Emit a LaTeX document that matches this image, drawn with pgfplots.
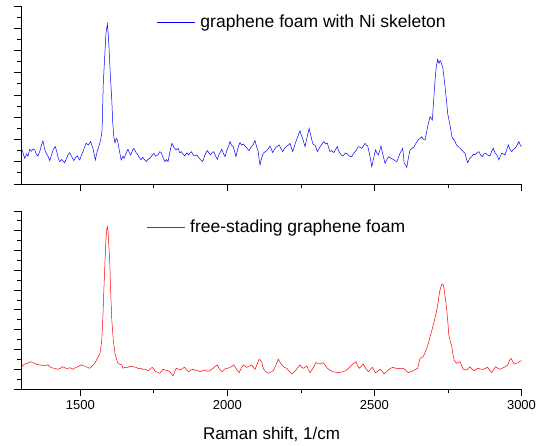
\documentclass[border=0pt]{standalone}
\usepackage{pgfplots}
\pgfplotsset{compat=1.18}
\usepackage{fontspec}
\setmainfont{Liberation Sans}
\begin{document}
\begin{tikzpicture}
\useasboundingbox (-21.5pt,-57pt) rectangle (522.5pt,389pt);
\pgfplotsset{
  ramanaxis/.style={
    scale only axis, width=500pt, height=178pt,
    xmin=1300, xmax=3000,
    axis x line=bottom, axis y line=left,
    axis line style={-, line width=0.8pt, black},
    tick align=outside,
    xtick={1500,2000,2500,3000}, minor x tick num=1,
    minor y tick num=1,
    major tick length=7.5pt, minor tick length=4pt,
    every tick/.style={black, line width=0.8pt},
    yticklabels={},
    /pgf/number format/assume math mode=true,
    /pgf/number format/set thousands separator={},
    tick label style={font=\fontsize{13}{15}\selectfont},
    legend style={draw=none, fill=none, inner sep=0pt, outer sep=0pt,
      font=\fontsize{17.5}{20}\selectfont, anchor=west, column sep=5pt,
      nodes={inner sep=0pt}},
    legend image code/.code={\draw[#1] (0pt,0pt) -- (38pt,0pt);},
    clip=false,
  }
}
% top panel
\begin{axis}[ramanaxis, at={(0pt,205pt)}, anchor=south west,
  ymin=0, ymax=16, ytick={0,2,...,16}, xticklabels={},
  legend style={at={(0.271,0.91)}}]
\addplot[blue, line width=0.5pt] coordinates {
(1300,3.21) (1305,2.8) (1311,2.31) (1318,2.7) (1322,2.5) (1328,3.12) (1334,2.95) (1340,3.15) (1345,3.06) (1350,2.7) (1356,2.52) (1363,3.0) (1368,3.5) (1373,3.87) (1378,3.2) (1384,2.76) (1390,2.5) (1396,2.10)
(1402,2.6) (1408,3.1) (1415,3.36) (1420,2.9) (1425,2.3) (1430,2.01) (1437,2.2) (1442,2.05) (1447,1.92) (1453,2.3) (1458,2.6) (1464,2.82) (1470,2.5) (1474,2.3) (1478,2.10) (1484,2.4) (1490,2.52) (1494,2.3) (1498,2.16) (1504,2.6) (1509,2.91)
(1514,3.3) (1520,3.66) (1527,3.5) (1535,3.81) (1539,3.5) (1543,3.21) (1547,2.7) (1551,2.16) (1557,2.9) (1562,3.3) (1566,3.66) (1570,4.1) (1574,4.85) (1578,9.05) (1583,11.5) (1587,13.5)
(1592,14.38) (1595,13.4) (1598,12.0) (1602,9.8) (1607,7.55) (1610,5.6) (1614,4.2) (1618,3.7) (1622,4.1) (1626,3.96) (1630,3.4) (1635,2.7) (1639,2.16) (1645,2.5) (1649,2.3) (1653,2.61) (1658,2.9) (1662,3.12)
(1667,2.8) (1671,2.61) (1676,2.9) (1680,3.2) (1685,3.06) (1690,2.8) (1694,2.7) (1698,2.46) (1703,2.3) (1707,2.16) (1712,2.4) (1718,2.2) (1724,2.01) (1730,2.2) (1736,2.31) (1742,2.5) (1750,2.76) (1756,2.5) (1764,2.61)
(1770,2.9) (1775,2.82) (1781,2.4) (1787,2.01) (1792,2.2) (1798,2.01) (1804,2.8) (1808,3.3) (1812,3.66) (1818,3.3) (1826,3.06) (1833,3.2) (1838,2.8) (1843,2.91) (1849,2.7) (1855,2.52) (1862,2.8) (1868,2.6) (1872,2.76)
(1878,2.9) (1884,2.6) (1889,2.52) (1896,2.61) (1902,2.4) (1908,2.2) (1916,2.01) (1922,2.5) (1927,2.8) (1932,3.0) (1937,2.8) (1943,2.61) (1948,2.8) (1954,2.91) (1960,2.5) (1966,2.22) (1972,2.7) (1977,2.9) (1981,3.12)
(1987,2.7) (1992,2.46) (1998,3.0) (2004,3.4) (2009,3.81) (2014,3.5) (2020,3.36) (2025,2.9) (2029,2.46) (2035,3.1) (2039,3.5) (2043,3.72) (2049,3.5) (2054,3.6) (2060,3.42) (2067,3.2) (2074,3.0) (2080,3.3) (2087,3.5) (2094,3.90)
(2100,3.3) (2105,2.91) (2108,2.2) (2111,1.71) (2116,2.3) (2122,2.76) (2128,2.9) (2134,3.0) (2140,3.2) (2145,3.42) (2150,3.1) (2154,2.82) (2160,3.1) (2165,3.30) (2171,3.4) (2176,3.51) (2182,3.2)
(2188,2.91) (2195,3.2) (2202,3.42) (2208,3.5) (2213,3.66) (2218,3.2) (2222,2.91) (2228,3.4) (2233,3.81) (2240,4.3) (2247,4.79) (2251,4.4) (2256,4.11) (2260,3.7) (2264,3.36) (2271,4.2)
(2278,5.0) (2284,4.3) (2290,3.66) (2294,3.5) (2298,3.51) (2302,3.2) (2306,2.91) (2312,3.2) (2317,3.42) (2322,3.6) (2328,3.81) (2334,3.6) (2340,3.66) (2345,3.2) (2349,2.91) (2355,3.0)
(2362,2.82) (2368,3.1) (2374,3.36) (2378,3.0) (2383,2.76) (2388,2.6) (2394,2.52) (2401,2.8) (2408,2.70) (2415,2.5) (2423,2.46) (2428,2.7) (2434,2.9) (2440,3.1) (2445,3.36) (2451,3.3)
(2457,3.21) (2462,3.4) (2468,3.66) (2472,3.5) (2477,3.42) (2484,2.6) (2491,1.56) (2497,2.3) (2504,3.06) (2508,2.8) (2513,2.61) (2518,3.0) (2522,3.42) (2529,2.6) (2536,1.86) (2542,2.2)
(2549,2.46) (2556,2.3) (2564,2.22) (2570,2.1) (2576,2.01) (2582,2.4) (2587,2.76) (2592,3.0) (2596,3.21) (2599,2.5) (2601,1.86) (2606,1.7) (2610,1.50) (2615,2.3) (2621,3.06) (2628,3.2)
(2635,3.36) (2642,3.7) (2649,3.96) (2655,4.1) (2661,4.25) (2667,4.0) (2672,3.96) (2677,4.6) (2681,5.15) (2685,5.6) (2689,6.05) (2693,5.9) (2697,5.75) (2700,7.0) (2703,8.15) (2706,9.3)
(2709,10.25) (2712,10.8) (2715,11.21) (2718,10.9) (2720,10.85) (2723,11.1) (2726,10.99) (2729,10.7) (2732,10.54) (2736,9.7) (2740,8.75) (2745,7.5) (2749,6.35) (2753,5.8) (2757,5.30) (2761,4.6)
(2765,4.11) (2770,4.0) (2774,3.81) (2779,3.5) (2785,3.36) (2791,3.2) (2797,3.06) (2802,2.9) (2808,2.76) (2812,2.3) (2817,1.92) (2824,2.3) (2831,2.46) (2836,2.7) (2842,2.61) (2848,2.8)
(2855,2.91) (2861,2.6) (2867,2.46) (2872,2.7) (2878,2.76) (2885,2.6) (2893,2.52) (2898,2.9) (2904,3.21) (2910,2.8) (2916,2.61) (2920,2.4) (2923,2.16) (2928,2.5) (2933,2.76) (2938,2.7)
(2944,2.61) (2950,3.1) (2955,3.51) (2961,3.1) (2967,2.91) (2972,3.1) (2978,3.21) (2985,3.5) (2991,3.81) (2996,3.5) (3000,3.36)
};
\addlegendentry{graphene foam with Ni skeleton}
\end{axis}
% bottom panel
\begin{axis}[ramanaxis, at={(0pt,0pt)}, anchor=south west,
  ymin=0, ymax=18, ytick={0,2,...,18},
  x axis line style={shorten <=-7pt},
  xlabel={Raman shift, 1/cm},
  xlabel style={font=\fontsize{17}{20}\selectfont, at={(axis description cs:0.5,0)}, anchor=base, yshift=-51pt},
  legend style={at={(0.2504,0.91)}}]
\addplot[red, line width=0.5pt] coordinates {
(1300,2.19) (1305,2.4) (1311,2.53) (1320,2.6) (1331,2.76) (1338,2.65) (1345,2.60) (1352,2.5) (1362,2.43) (1370,2.4) (1379,2.33) (1385,2.4) (1390,2.46) (1395,2.3) (1401,2.15) (1412,2.1)
(1424,1.99) (1432,2.1) (1441,2.25) (1450,2.1) (1458,2.09) (1466,2.15) (1475,1.99) (1480,2.1) (1486,2.19) (1495,2.3) (1503,2.46) (1508,2.35) (1515,2.33) (1524,2.2) (1532,2.09) (1540,2.3)
(1549,2.60) (1558,3.10) (1567,3.6) (1573,4.95) (1577,7.5) (1580,10.0) (1584,13.0) (1587,15.07) (1590,16.2) (1592,16.41) (1594,16.0) (1596,15.07) (1600,12.8)
(1603,10.0) (1607,7.0) (1612,4.95) (1618,3.6) (1624,2.93) (1628,2.60) (1635,2.5) (1641,2.43) (1645,2.09) (1653,2.2) (1662,2.19) (1670,2.3) (1679,2.25) (1688,2.2)
(1696,2.09) (1705,2.1) (1713,1.99) (1721,2.0) (1730,1.85) (1737,2.0) (1744,2.19) (1750,2.0) (1755,1.75) (1762,1.7) (1770,1.59) (1776,1.8) (1781,1.99) (1790,1.9) (1798,1.85) (1806,1.7)
(1815,1.31) (1820,1.7) (1826,2.09) (1834,2.0) (1841,1.92) (1848,2.1) (1855,2.19) (1862,1.9) (1868,1.75) (1875,1.9) (1883,1.99) (1891,1.9) (1900,1.85) (1907,1.75)
(1915,1.85) (1924,1.92) (1932,1.8) (1941,1.85) (1947,2.0) (1952,2.09) (1959,2.3) (1966,2.43) (1973,2.0) (1981,1.75) (1988,1.9) (1995,2.09) (2002,2.1) (2009,2.19) (2016,2.3) (2022,2.43)
(2031,2.0) (2040,1.65) (2047,2.1) (2054,2.43) (2060,2.3) (2066,2.19) (2074,2.3) (2083,2.43) (2088,2.2) (2094,1.99) (2101,2.5) (2108,3.00) (2112,2.9) (2117,2.76) (2120,2.3) (2124,1.99)
(2131,1.75) (2139,1.59) (2147,1.7) (2156,1.85) (2165,2.4) (2173,3.00) (2179,2.7) (2185,2.43) (2193,2.2) (2202,2.09) (2210,1.8) (2219,1.52) (2226,1.7) (2233,1.92) (2240,2.2) (2247,2.43)
(2252,2.2) (2258,2.09) (2264,2.2) (2270,2.33) (2275,2.0) (2281,1.65) (2291,2.1) (2301,2.66) (2308,2.6) (2315,2.53) (2320,2.6) (2326,2.66) (2333,2.4) (2340,2.09) (2349,1.9) (2358,1.75)
(2367,1.7) (2377,1.65) (2385,1.7) (2394,1.75) (2401,1.85) (2408,1.99) (2415,2.2) (2423,2.43) (2430,2.6) (2437,2.76) (2442,2.4) (2448,2.09) (2455,2.3) (2462,2.53) (2470,2.1) (2479,1.75)
(2486,2.0) (2493,2.19) (2498,1.9) (2504,1.65) (2511,1.8) (2519,1.99) (2526,1.8) (2533,1.52) (2540,1.7) (2547,1.92) (2555,2.1) (2564,2.19) (2572,2.1) (2581,2.05) (2590,2.1) (2598,2.09)
(2606,1.9) (2615,1.65) (2623,1.75) (2632,1.85) (2640,2.0) (2647,2.09) (2651,2.6) (2655,3.10) (2661,3.2) (2666,3.27) (2672,3.7) (2678,4.12) (2684,4.7) (2689,5.29) (2695,5.9) (2700,6.47)
(2706,7.2) (2712,7.99) (2716,8.7) (2719,9.33) (2722,9.9) (2726,10.34) (2729,10.6) (2732,10.62) (2735,10.4) (2737,10.01) (2742,9.0) (2746,7.99) (2750,6.6) (2753,5.46) (2758,4.8) (2763,4.28)
(2767,3.5) (2771,2.93) (2776,2.7) (2780,2.60) (2786,2.7) (2791,2.76) (2797,2.3) (2802,1.99) (2808,1.95) (2814,1.92) (2820,2.1) (2825,2.25) (2832,2.0) (2839,1.85) (2846,2.0) (2853,2.09)
(2862,2.0) (2870,1.99) (2878,2.1) (2885,2.19) (2892,1.9) (2899,1.65) (2906,2.0) (2912,2.25) (2920,2.1) (2927,1.99) (2934,2.1) (2941,2.19) (2947,2.3) (2953,2.43) (2958,2.8) (2964,3.10)
(2970,2.8) (2975,2.53) (2982,2.6) (2989,2.66) (2995,2.8) (3000,2.86)
};
\addlegendentry{free-stading graphene foam}
\end{axis}
\end{tikzpicture}
\end{document}
